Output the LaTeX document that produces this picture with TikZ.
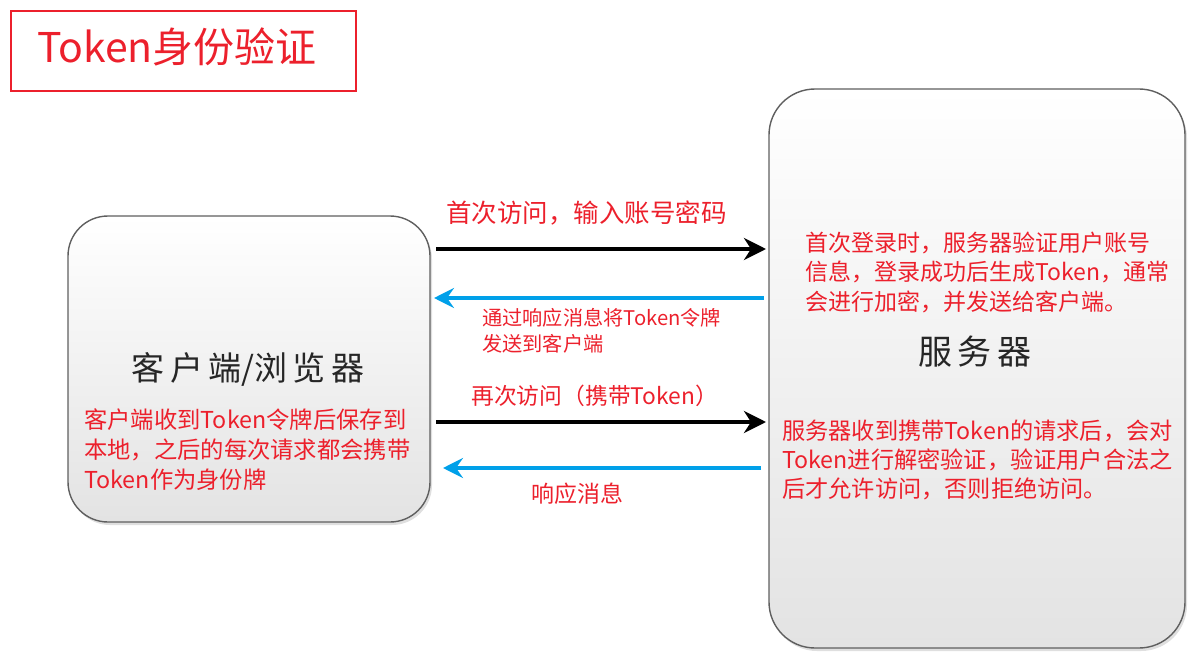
\documentclass[tikz,border=0pt]{standalone}
\usepackage{fontspec}
\setmainfont{Noto Sans CJK SC}
\usetikzlibrary{arrows.meta,shadows}
\definecolor{tred}{RGB}{236,32,44}
\definecolor{tblue}{RGB}{0,160,233}
\definecolor{tgray}{RGB}{95,95,95}
\tikzset{
  box/.style={draw=tgray, line width=1.4pt, top color=white, bottom color=black!11,
    drop shadow={shadow xshift=2pt, shadow yshift=-3pt, opacity=0.25, fill=black!50}},
  redtxt/.style={text=tred, inner sep=0pt, align=left},
  bigtxt/.style={text=black!85, inner sep=0pt},
  reqarrow/.style={line width=4.5pt, -{Stealth[length=22pt,width=22pt,inset=7pt]}},
  resarrow/.style={line width=4pt, tblue, -{Stealth[length=20pt,width=20pt,inset=7pt]}},
}
\begin{document}
\begin{tikzpicture}[x=1pt,y=-1pt]
\useasboundingbox (0,0) rectangle (1204,663);
% title
\node[draw=tred, line width=2.3pt, minimum width=345pt, minimum height=80pt, anchor=north west, inner sep=0pt] (titlebox) at (10,10) {};
\node[text=tred, inner sep=0pt, font=\fontsize{41}{44}\selectfont] (title) at (177,47) {Token身份验证};
% boxes
\draw[box, rounded corners=40pt] (68,216) rectangle (430,522);
\node[minimum width=362pt, minimum height=306pt, inner sep=0pt] (client) at (249,369) {};
\draw[box, rounded corners=46pt] (769,89) rectangle (1185,648);
\node[minimum width=416pt, minimum height=559pt, inner sep=0pt] (server) at (977,368.5) {};
% box texts
\node[bigtxt, font=\fontsize{33}{36}\selectfont] (clientlbl) at (248,369) {客\,户\,端/浏\,览\,器};
\node[redtxt, anchor=west, font=\fontsize{23.3}{30}\selectfont] (clienttxt) at (84,450) {客户端收到Token令牌后保存到\\本地，之后的每次请求都会携带\\Token作为身份牌};
\node[bigtxt, font=\fontsize{34}{36}\selectfont] (serverlbl) at (975,352) {服\,务\,器};
\node[redtxt, anchor=west, font=\fontsize{23}{29.5}\selectfont] (servertxt1) at (805,272) {首次登录时，服务器验证用户账号\\信息，登录成功后生成Token，通常\\会进行加密，并发送给客户端。};
\node[redtxt, anchor=west, font=\fontsize{23.2}{29}\selectfont] (servertxt2) at (782,460) {服务器收到携带Token的请求后，会对\\Token进行解密验证，验证用户合法之\\后才允许访问，否则拒绝访问。};
% arrow end points
\coordinate (c1) at (436,249);
\coordinate (s1) at (766,249);
\coordinate (s2) at (764,298);
\coordinate (c2) at (434,298);
\coordinate (c3) at (436,422);
\coordinate (s3) at (766,422);
\coordinate (s4) at (761,468);
\coordinate (c4) at (443,468);
\draw[reqarrow] (c1) -- (s1);
\draw[resarrow] (s2) -- (c2);
\draw[reqarrow] (c3) -- (s3);
\draw[resarrow] (s4) -- (c4);
% arrow labels
\node[redtxt, anchor=west, font=\fontsize{25.5}{28}\selectfont] (lbl1) at (446,213) {首次访问，输入账号密码};
\node[redtxt, anchor=west, font=\fontsize{20.2}{26}\selectfont] (lbl2) at (482,331) {通过响应消息将Token令牌\\发送到客户端};
\node[redtxt, anchor=west, font=\fontsize{22.8}{26}\selectfont] (lbl3) at (471,396) {再次访问（携带Token）};
\node[redtxt, anchor=west, font=\fontsize{23}{26}\selectfont] (lbl4) at (531,494) {响应消息};
\end{tikzpicture}
\end{document}
